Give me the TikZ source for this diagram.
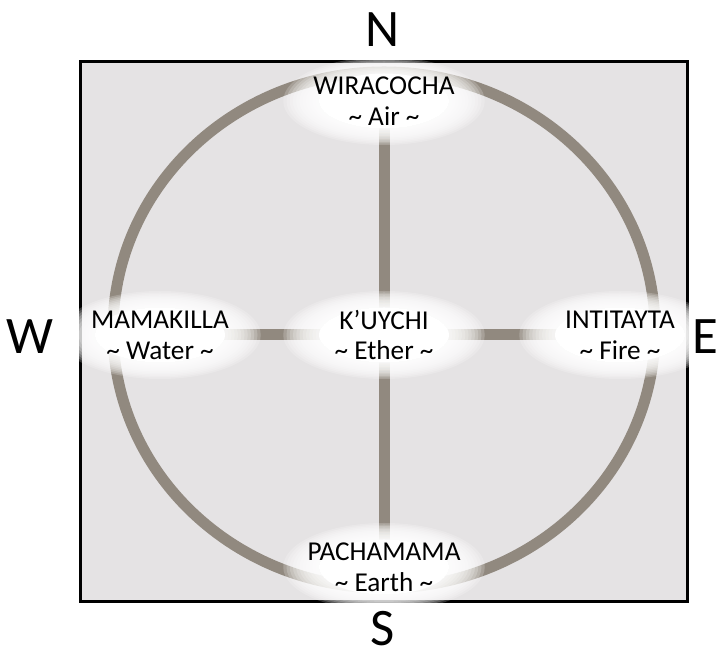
\documentclass[tikz,border=0pt]{standalone}
\usepackage{fontspec}
\setmainfont{Carlito}
\usetikzlibrary{backgrounds}
\definecolor{panelgray}{RGB}{229,227,228}
\definecolor{brushgray}{RGB}{145,137,127}
\begin{document}
\begin{tikzpicture}[
  compass/.style={font=\fontsize{30}{36}\selectfont,inner sep=0pt},
  spirit/.style={align=center,font=\fontsize{15.5}{17.5}\selectfont,inner sep=0pt},
  brush/.style={draw=brushgray,line width=0.22cm,line cap=round},
  halo/.style={fill=white,opacity=0.2}
]
  \useasboundingbox (0,0) rectangle (14.52,13.2);

  \node[compass] (N) at (7.66,12.6) {N};
  \node[compass] (S) at (7.66,0.62) {S};
  \node[compass] (W) at (0.6,6.46) {W};
  \node[compass] (E) at (14.1,6.46) {E};

  \node[spirit] (air) at (7.68,11.18) {WIRACOCHA\\\textasciitilde{} Air \textasciitilde};
  \node[spirit] (water) at (3.2,6.5) {MAMAKILLA\\\textasciitilde{} Water \textasciitilde};
  \node[spirit] (ether) at (7.68,6.5) {K’UYCHI\\\textasciitilde{} Ether \textasciitilde};
  \node[spirit] (fire) at (12.4,6.5) {INTITAYTA\\\textasciitilde{} Fire \textasciitilde};
  \node[spirit] (earth) at (7.68,1.86) {PACHAMAMA\\\textasciitilde{} Earth \textasciitilde};

  \begin{pgfonlayer}{background}
    \draw[line width=0.06cm,fill=panelgray] (1.6,1.16) rectangle (13.74,11.96);
    \draw[brush] (7.68,6.6) ellipse (5.42 and 5.16);
    \draw[brush] (air.center) -- (earth.center);
    \draw[brush] (water.center) -- (fire.center);
    % soft white glow behind each name
    \foreach \n in {air,water,ether,fire,earth} {
      \fill[white] (\n) ellipse (1.3 and 0.55);
      \foreach \k in {0,...,11}
        \fill[halo] (\n) ellipse ({1.3+0.065*\k} and {0.55+0.03*\k});
    }
  \end{pgfonlayer}
\end{tikzpicture}
\end{document}
